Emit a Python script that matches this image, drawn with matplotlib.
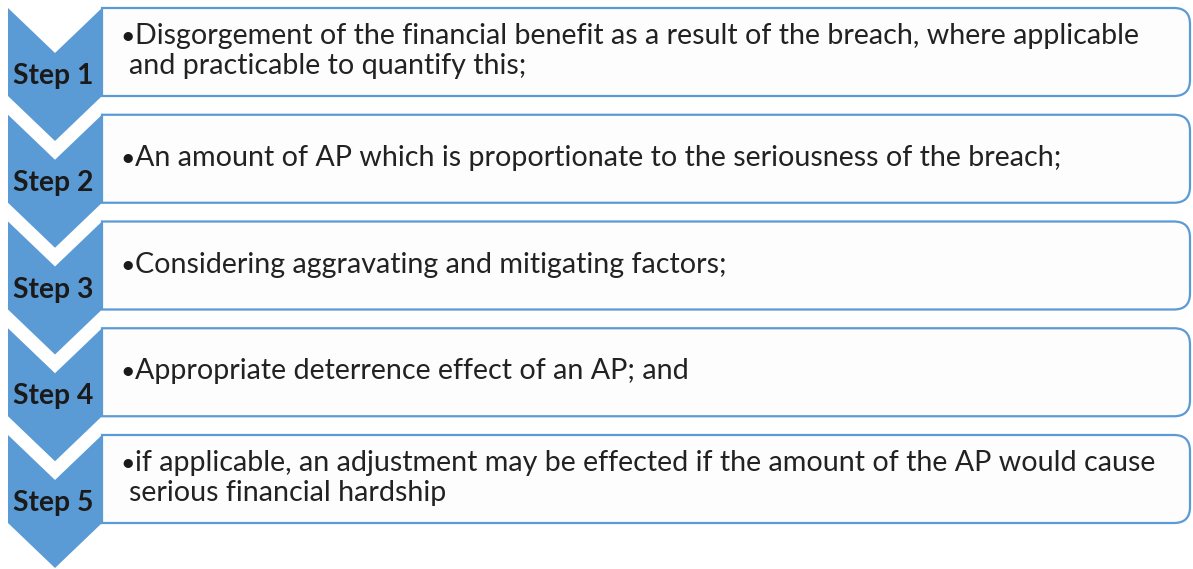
import matplotlib.pyplot as plt
from matplotlib.patches import Polygon, PathPatch
from matplotlib.path import Path

plt.rcParams['font.family'] = ['Lato', 'DejaVu Sans']

steps = ['Step 1', 'Step 2', 'Step 3', 'Step 4', 'Step 5']
items = [
    ['Disgorgement of the financial benefit as a result of the breach, where applicable',
     'and practicable to quantify this;'],
    ['An amount of AP which is proportionate to the seriousness of the breach;'],
    ['Considering aggravating and mitigating factors;'],
    ['Appropriate deterrence effect of an AP; and'],
    ['if applicable, an adjustment may be effected if the amount of the AP would cause',
     'serious financial hardship'],
]

blue = '#5b9bd5'
W, H = 1193, 569
fig = plt.figure(figsize=(W / 100, H / 100), dpi=100)
ax = fig.add_axes([0, 0, 1, 1])
ax.set_xlim(0, W)
ax.set_ylim(H, 0)
ax.axis('off')

cx0, cx1 = 8, 102
notch, side = 45, 88
pitch = 106.75
bx1, r = 1190, 16

for i, (lab, lines) in enumerate(zip(steps, items)):
    top = 8 + i * pitch
    mid = (cx0 + cx1) / 2
    chev = Polygon([(cx0, top), (mid, top + notch), (cx1, top), (cx1, top + side),
                    (mid, top + side + notch), (cx0, top + side)],
                   closed=True, facecolor=blue, edgecolor='none', zorder=3)
    ax.add_patch(chev)
    ax.text(mid - 2, top + 76, lab, ha='center', va='baseline', fontsize=20.3,
            fontweight='bold', color='#1a1a1a', zorder=4)

    # box with rounded right corners
    bot = top + side
    verts = [(cx1, top), (bx1 - r, top), (bx1, top), (bx1, top + r),
             (bx1, bot - r), (bx1, bot), (bx1 - r, bot), (cx1, bot), (cx1, top)]
    codes = [Path.MOVETO, Path.LINETO, Path.CURVE3, Path.CURVE3,
             Path.LINETO, Path.CURVE3, Path.CURVE3, Path.LINETO, Path.CLOSEPOLY]
    ax.add_patch(PathPatch(Path(verts, codes), facecolor='#fdfdfd',
                           edgecolor=blue, linewidth=1.6, zorder=2))

    ymid = top + side / 2
    lh = 30
    y0 = ymid + 7 - lh * (len(lines) - 1) / 2
    ax.text(120, y0, '\u2022', ha='left', va='baseline', fontsize=18,
            color='#1a1a1a', zorder=4)
    for j, ln in enumerate(lines):
        ax.text(135 if j == 0 else 129, y0 + j * lh, ln, ha='left', va='baseline',
                fontsize=20.6, color='#222222', zorder=4)

fig.savefig('out.png', dpi=100)
